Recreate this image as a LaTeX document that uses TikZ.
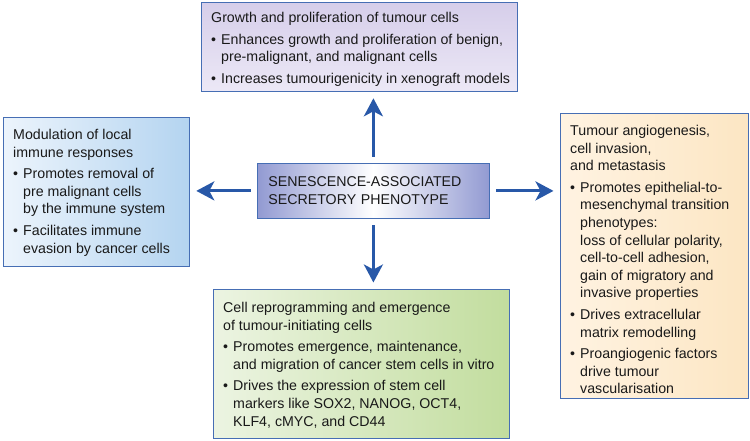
\documentclass[tikz,border=0pt]{standalone}
\usepackage{fontspec}
\setmainfont{Liberation Sans}
\usetikzlibrary{arrows.meta,calc}

\definecolor{boxline}{RGB}{70,110,180}
\definecolor{arrowblue}{RGB}{40,88,168}
\definecolor{textcol}{RGB}{25,25,25}
\definecolor{lavdark}{RGB}{214,206,234}
\definecolor{lavlight}{RGB}{236,232,246}
\definecolor{bluedark}{RGB}{180,212,240}
\definecolor{bluelight}{RGB}{236,244,252}
\definecolor{saspblue}{RGB}{146,154,210}
\definecolor{greendark}{RGB}{194,221,158}
\definecolor{greenlight}{RGB}{236,244,226}
\definecolor{peachdark}{RGB}{252,230,195}
\definecolor{peachlight}{RGB}{255,243,226}

\newcommand{\bul}{\makebox[10pt][l]{\textbullet}}
\newcommand{\ind}{\hspace*{10pt}}

\begin{document}
\begin{tikzpicture}[x=1pt,y=-1pt,
  box/.style={draw=boxline, line width=0.8pt, anchor=north west, inner sep=0pt},
  txt/.style={anchor=north west, align=left, inner sep=0pt, text=textcol,
    font=\fontsize{14.2}{17.6}\selectfont},
  arr/.style={draw=arrowblue, line width=3pt,
    -{Stealth[length=18pt,width=19pt,inset=5pt]},
    shorten <=6.5pt, shorten >=6.5pt}]
  \useasboundingbox (0,0) rectangle (750,440);

  % Central box
  \node[box, minimum width=232pt, minimum height=55pt, inner xsep=11pt,
    text width=210pt, align=left, text=textcol,
    left color=saspblue, right color=saspblue, middle color=white,
    font=\fontsize{14.2}{18}\selectfont] (sasp) at (257,163)
    {SENESCENCE-ASSOCIATED\\SECRETORY PHENOTYPE};

  % Outer boxes
  \node[box, minimum width=316pt, minimum height=89pt,
    top color=lavdark, bottom color=lavlight] (growth) at (201,2) {};
  \node[box, minimum width=186pt, minimum height=149pt,
    shading angle=135, left color=bluelight, right color=bluedark] (immune) at (3,117) {};
  \node[box, minimum width=296pt, minimum height=149pt,
    left color=greenlight, right color=greendark] (reprog) at (213,289) {};
  \node[box, minimum width=188pt, minimum height=285pt,
    left color=peachlight, right color=peachdark] (angio) at (560,113) {};

  % Box texts
  \node[txt] (growthtxt) at ($(growth.north west)+(10,10)$)
    {Growth and proliferation of tumour cells\\[4pt]
     \bul Enhances growth and proliferation of benign,\\
     \ind pre-malignant, and malignant cells\\[4pt]
     \bul Increases tumourigenicity in xenograft models};
  \node[txt] (immunetxt) at ($(immune.north west)+(10,12)$)
    {Modulation of local\\
     immune responses\\[4pt]
     \bul Promotes removal of\\
     \ind pre malignant cells\\
     \ind by the immune system\\[4pt]
     \bul Facilitates immune\\
     \ind evasion by cancer cells};
  \node[txt] (reprogtxt) at ($(reprog.north west)+(10,13)$)
    {Cell reprogramming and emergence\\
     of tumour-initiating cells\\[4pt]
     \bul Promotes emergence, maintenance,\\
     \ind and migration of cancer stem cells in vitro\\[4pt]
     \bul Drives the expression of stem cell\\
     \ind markers like SOX2, NANOG, OCT4,\\
     \ind KLF4, cMYC, and CD44};
  \node[txt] (angiotxt) at ($(angio.north west)+(10,12)$)
    {Tumour angiogenesis,\\
     cell invasion,\\
     and metastasis\\[4pt]
     \bul Promotes epithelial-to-\\
     \ind mesenchymal transition\\
     \ind phenotypes:\\
     \ind loss of cellular polarity,\\
     \ind cell-to-cell adhesion,\\
     \ind gain of migratory and\\
     \ind invasive properties\\[4pt]
     \bul Drives extracellular\\
     \ind matrix remodelling\\[4pt]
     \bul Proangiogenic factors\\
     \ind drive tumour\\
     \ind vascularisation};

  % Arrows out of the central box
  \draw[arr] (sasp.north) -- (sasp.north |- growth.south);
  \draw[arr] (sasp.south) -- (sasp.south |- reprog.north);
  \draw[arr] (sasp.west) -- (sasp.west -| immune.east);
  \draw[arr] (sasp.east) -- (sasp.east -| angio.west);
\end{tikzpicture}
\end{document}
